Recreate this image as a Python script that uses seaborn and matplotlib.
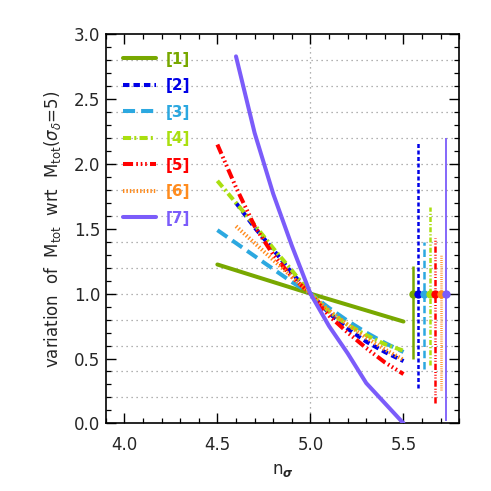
import numpy as np
import pandas as pd
import matplotlib
matplotlib.use("Agg")
import matplotlib.pyplot as plt
import seaborn as sns
from matplotlib.lines import Line2D
from matplotlib.ticker import MultipleLocator

# ---------------- data ----------------
labels = ["[1]", "[2]", "[3]", "[4]", "[5]", "[6]", "[7]"]
colors = ["#78A800", "#0000E6", "#2CA8E0", "#AADF10", "#FF0000", "#FF8C1E", "#7B5CFA"]

x1 = [4.5, 5.0, 5.5]
y1 = [1.225, 1.0, 0.785]

x2 = [4.6, 4.7, 4.8, 4.9, 5.0, 5.1, 5.2, 5.3, 5.4, 5.5]
y2 = [1.70, 1.51, 1.34, 1.16, 1.0, 0.85, 0.73, 0.63, 0.55, 0.48]

x3 = [4.5, 4.6, 4.7, 4.8, 4.9, 5.0, 5.1, 5.2, 5.3, 5.4, 5.5]
y3 = [1.49, 1.39, 1.29, 1.19, 1.09, 1.0, 0.89, 0.79, 0.70, 0.62, 0.55]

x4 = [4.5, 4.6, 4.7, 4.8, 4.9, 5.0, 5.1, 5.2, 5.3, 5.4, 5.5]
y4 = [1.87, 1.70, 1.53, 1.35, 1.18, 1.0, 0.86, 0.76, 0.68, 0.61, 0.56]

x5 = [4.5, 4.6, 4.7, 4.8, 4.9, 5.0, 5.1, 5.2, 5.3, 5.4, 5.5]
y5 = [2.15, 1.82, 1.52, 1.30, 1.13, 1.0, 0.83, 0.70, 0.58, 0.47, 0.38]

x6 = [4.6, 4.7, 4.8, 4.9, 5.0, 5.1, 5.2, 5.3, 5.4, 5.5]
y6 = [1.52, 1.39, 1.26, 1.13, 1.0, 0.87, 0.76, 0.66, 0.57, 0.49]

x7 = [4.6, 4.7, 4.8, 4.9, 5.0, 5.1, 5.2, 5.3, 5.4, 5.5]
y7 = [2.83, 2.24, 1.77, 1.37, 1.0, 0.75, 0.54, 0.31, 0.155, 0.0]

# error bars on the right side
err_x = [5.55, 5.58, 5.61, 5.64, 5.67, 5.70, 5.73]
err_mid = [1.0, 1.0, 1.0, 1.0, 1.0, 1.0, 1.0]
err_lo = [0.50, 0.27, 0.42, 0.45, 0.16, 0.26, 0.02]
err_hi = [1.21, 2.16, 1.40, 1.67, 1.43, 1.30, 2.20]

xs = [x1, x2, x3, x4, x5, x6, x7]
ys = [y1, y2, y3, y4, y5, y6, y7]

# ---------------- style ----------------
styles = [
    "-",
    (0, (1.6, 1.0)),
    (0, (3.0, 1.5)),
    (0, (2.0, 0.8, 0.5, 0.8)),
    (0, (2.5, 0.8, 0.4, 0.7, 0.4, 0.7, 0.4, 0.8)),
    (0, (0.35, 0.5)),
    "-",
]
err_lw = [1.8, 1.8, 1.8, 1.8, 1.8, 1.8, 1.3]

sns.set_theme(style="ticks")
plt.rcParams["font.family"] = ["DejaVu Sans"]
plt.rcParams["mathtext.fontset"] = "dejavusans"

fig = plt.figure(figsize=(4.91, 4.91), dpi=100)
ax = fig.add_axes([0.2153, 0.1378, 0.7202, 0.7923])

# grid
for g in np.arange(0.2, 2.81, 0.2):
    ax.axhline(g, color="#999999", lw=0.9, ls=(0, (1, 3)), zorder=0)
ax.axvline(5.0, color="#999999", lw=0.9, ls=(0, (1, 3)), zorder=0)

LW = 2.9
for i in range(7):
    df = pd.DataFrame({"x": xs[i], "y": ys[i]})
    sns.lineplot(data=df, x="x", y="y", ax=ax, color=colors[i], lw=LW,
                 linestyle=styles[i], sort=False, estimator=None, zorder=3 + i * 0.1)

# error bars
for i in range(7):
    eb = ax.errorbar([err_x[i]], [err_mid[i]],
                     yerr=[[err_mid[i] - err_lo[i]], [err_hi[i] - err_mid[i]]],
                     fmt="none", ecolor=colors[i], elinewidth=err_lw[i], capsize=0, zorder=4)
    eb[2][0].set_linestyle(styles[i])
for i in range(7):
    ax.plot([err_x[i]], [err_mid[i]], "o", color=colors[i], ms=6, mec="none", zorder=6)

ax.set_xlim(3.9, 5.8)
ax.set_ylim(0.0, 3.0)
ax.xaxis.set_major_locator(MultipleLocator(0.5))
ax.xaxis.set_minor_locator(MultipleLocator(0.1))
ax.yaxis.set_major_locator(MultipleLocator(0.5))
ax.yaxis.set_minor_locator(MultipleLocator(0.1))
ax.xaxis.set_major_formatter(matplotlib.ticker.FormatStrFormatter("%.1f"))
ax.yaxis.set_major_formatter(matplotlib.ticker.FormatStrFormatter("%.1f"))
ax.tick_params(which="both", direction="in", top=True, right=True, color="black")
ax.tick_params(which="major", length=7, width=1.0, labelsize=12)
ax.tick_params(which="minor", length=3.5, width=0.9)
ax.tick_params(axis="x", which="major", pad=9)
ax.tick_params(axis="y", which="major", pad=4)
for s in ax.spines.values():
    s.set_linewidth(1.2)
    s.set_color("black")

ax.set_xlabel(r"n$_{\boldsymbol{\sigma}}$", fontsize=12, labelpad=5)
ax.set_ylabel(r"variation  of  M$_{\rm tot}$  wrt  M$_{\rm tot}$($\sigma_{\delta}$=5)",
              fontsize=12, labelpad=8)

handles = [Line2D([0], [0], color=colors[i], lw=LW, linestyle=styles[i]) for i in range(7)]
leg = ax.legend(handles, labels, loc="upper left", bbox_to_anchor=(0.048, 0.955),
                frameon=False, handlelength=2.2, handletextpad=0.6,
                labelspacing=0.75, borderpad=0, borderaxespad=0,
                prop={"weight": "bold", "size": 11})
for t, c in zip(leg.get_texts(), colors):
    t.set_color(c)

fig.savefig("out.png", dpi=100)
